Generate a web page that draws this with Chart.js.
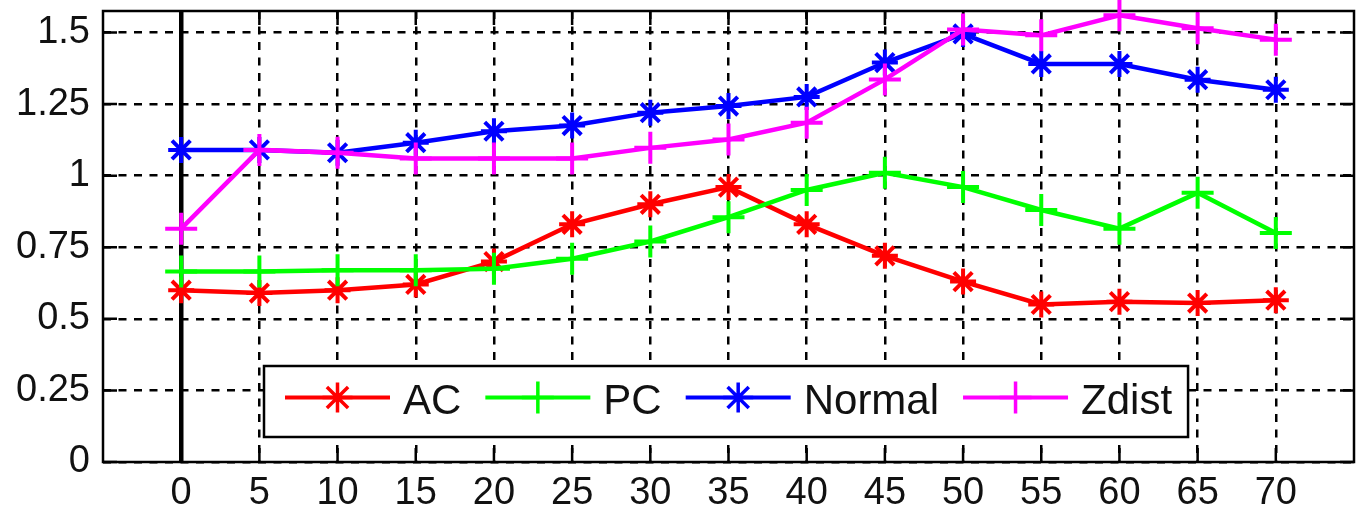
<!DOCTYPE html>
<html>
<head>
<meta charset="utf-8">
<script src="https://cdn.jsdelivr.net/npm/chart.js@4.4.0/dist/chart.umd.min.js"></script>
<style>
  html, body { margin: 0; padding: 0; background: #fff; }
  #chart { display: block; }
</style>
</head>
<body>
<canvas id="chart" width="1360" height="515"></canvas>
<script>
// ---- data ----
const xValues      = [0, 5, 10, 15, 20, 25, 30, 35, 40, 45, 50, 55, 60, 65, 70];
const acValues     = [0.60, 0.59, 0.60, 0.62, 0.70, 0.83, 0.90, 0.96, 0.83, 0.72, 0.63, 0.55, 0.56, 0.555, 0.565];
const pcValues     = [0.665, 0.665, 0.67, 0.67, 0.675, 0.71, 0.77, 0.855, 0.95, 1.01, 0.96, 0.88, 0.815, 0.94, 0.80];
const normalValues = [1.09, 1.09, 1.08, 1.115, 1.155, 1.175, 1.22, 1.243, 1.275, 1.395, 1.495, 1.39, 1.39, 1.335, 1.30];
const zdistValues  = [0.815, 1.09, 1.08, 1.06, 1.06, 1.06, 1.097, 1.126, 1.185, 1.336, 1.51, 1.49, 1.56, 1.515, 1.475];

const seriesLabels = ['AC', 'PC', 'Normal', 'Zdist'];
const xTicks = [0, 5, 10, 15, 20, 25, 30, 35, 40, 45, 50, 55, 60, 65, 70];
const yTicks = [0, 0.25, 0.5, 0.75, 1, 1.25, 1.5];

const FONT = "'Liberation Sans', Arial, Helvetica, sans-serif";
const TEXT = '#111';
const GRID_DASH = [8, 7.5];

function toPoints(arr) {
  return xValues.map((x, i) => ({ x, y: arr[i] }));
}

function series(label, values, color, style, radius, order) {
  return {
    label,
    data: toPoints(values),
    borderColor: color,
    backgroundColor: color,
    borderWidth: 4.5,
    pointStyle: style,
    pointRadius: radius,
    pointHoverRadius: radius,
    pointBorderWidth: 4,
    pointBorderColor: color,
    tension: 0,
    clip: false,
    order,
  };
}

// ---- marker drawing for the legend ----
function drawMarker(ctx, style, x, y, r) {
  ctx.beginPath();
  ctx.moveTo(x - r, y); ctx.lineTo(x + r, y);
  ctx.moveTo(x, y - r); ctx.lineTo(x, y + r);
  if (style === 'star') {
    const d = r * Math.SQRT1_2;
    ctx.moveTo(x - d, y - d); ctx.lineTo(x + d, y + d);
    ctx.moveTo(x - d, y + d); ctx.lineTo(x + d, y - d);
  }
  ctx.stroke();
}

// ---- frame + inward ticks (matlab look) ----
const framePlugin = {
  id: 'frame',
  beforeDatasetsDraw(chart) {
    const { ctx, chartArea: a, scales } = chart;
    const len = 14;
    ctx.save();
    ctx.strokeStyle = '#000';
    ctx.lineWidth = 2.5;
    ctx.setLineDash([]);
    ctx.beginPath();
    xTicks.forEach(v => {
      const px = scales.x.getPixelForValue(v);
      ctx.moveTo(px, a.top); ctx.lineTo(px, a.top + len);
      ctx.moveTo(px, a.bottom); ctx.lineTo(px, a.bottom - len);
    });
    yTicks.forEach(v => {
      const py = scales.y.getPixelForValue(v);
      ctx.moveTo(a.left, py); ctx.lineTo(a.left + len, py);
      ctx.moveTo(a.right, py); ctx.lineTo(a.right - len, py);
    });
    ctx.stroke();
    ctx.strokeRect(a.left, a.top, a.right - a.left, a.bottom - a.top);
    ctx.restore();
  }
};

// ---- legend box inside plot ----
const legendPlugin = {
  id: 'boxLegend',
  afterDraw(chart) {
    const { ctx, chartArea: a } = chart;
    const left = a.left + 161, top = a.top + 355, bottom = a.top + 426;
    const midY = (top + bottom) / 2 - 4;
    ctx.save();
    ctx.font = `42px ${FONT}`;
    let w = 21;
    chart.data.datasets.forEach(ds => { w += 118 + ctx.measureText(ds.label).width + 24; });
    w = w - 24 + 16;
    ctx.fillStyle = '#fff';
    ctx.fillRect(left, top, w, bottom - top);
    ctx.strokeStyle = '#000';
    ctx.lineWidth = 2.5;
    ctx.strokeRect(left, top, w, bottom - top);

    let x = left + 21;
    chart.data.datasets.forEach(ds => {
      ctx.strokeStyle = ds.borderColor;
      ctx.lineWidth = 4;
      ctx.beginPath();
      ctx.moveTo(x, midY); ctx.lineTo(x + 105, midY);
      ctx.stroke();
      ctx.lineWidth = 3.5;
      drawMarker(ctx, ds.pointStyle, x + 52.5, midY, ds.pointStyle === 'star' ? 15 : 16);
      ctx.fillStyle = TEXT;
      ctx.textBaseline = 'middle';
      ctx.textAlign = 'left';
      ctx.fillText(ds.label, x + 118, midY + 5);
      x += 118 + ctx.measureText(ds.label).width + 24;
    });
    ctx.restore();
  }
};

new Chart(document.getElementById('chart'), {
  type: 'line',
  data: {
    datasets: [
      series(seriesLabels[0], acValues,     '#ff0000', 'star',  13, 4),
      series(seriesLabels[1], pcValues,     '#00ff00', 'cross', 16, 3),
      series(seriesLabels[2], normalValues, '#0000ff', 'star',  13, 2),
      series(seriesLabels[3], zdistValues,  '#ff00ff', 'cross', 16, 1),
    ]
  },
  options: {
    responsive: false,
    animation: false,
    layout: { autoPadding: false, padding: { top: 11, right: 6, left: 0, bottom: 0 } },
    plugins: {
      legend: { display: false },
      tooltip: { enabled: false }
    },
    scales: {
      x: {
        type: 'linear',
        min: -5,
        max: 75,
        afterBuildTicks: s => { s.ticks = xTicks.map(v => ({ value: v })); },
        afterFit: s => { s.height = 53; s.paddingLeft = 0; s.paddingRight = 0; },
        grid: {
          drawTicks: false,
          color: '#000',
          lineWidth: c => (c.tick && c.tick.value === 0 ? 4.5 : 2.5),
        },
        border: {
          display: false,
          dash: c => (c.tick && c.tick.value === 0 ? [] : GRID_DASH),
        },
        ticks: {
          padding: 9,
          color: TEXT,
          font: { family: FONT, size: 38 },
          callback: v => String(v),
          maxRotation: 0,
          autoSkip: false,
        }
      },
      y: {
        min: 0,
        max: 1.575,
        afterBuildTicks: s => { s.ticks = yTicks.map(v => ({ value: v })); },
        afterFit: s => { s.width = 103; s.paddingTop = 0; s.paddingBottom = 0; },
        grid: {
          drawTicks: false,
          color: '#000',
          lineWidth: 2.5,
        },
        border: { display: false, dash: GRID_DASH },
        ticks: {
          padding: 13,
          color: TEXT,
          font: { family: FONT, size: 38 },
          callback: v => String(v),
          autoSkip: false,
        }
      }
    }
  },
  plugins: [framePlugin, legendPlugin]
});
</script>
</body>
</html>
